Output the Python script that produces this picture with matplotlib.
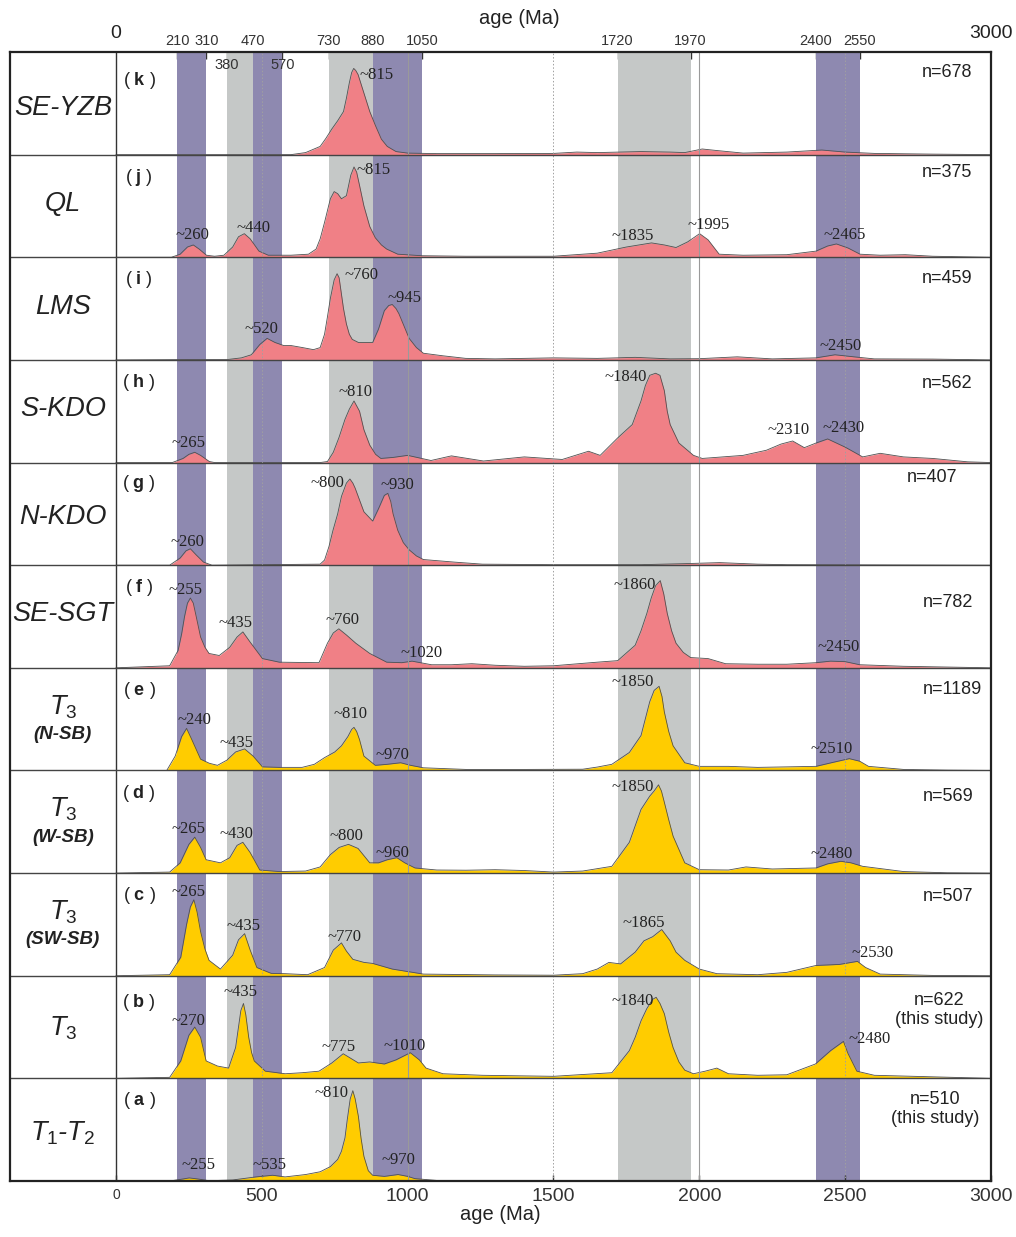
import matplotlib
matplotlib.use("Agg")
import matplotlib.pyplot as plt

plt.rcParams['font.family'] = ['Liberation Sans', 'DejaVu Sans']
plt.rcParams['mathtext.fontset'] = 'custom'
plt.rcParams['mathtext.it'] = 'Liberation Sans:italic'
plt.rcParams['mathtext.rm'] = 'Liberation Sans'
plt.rcParams['mathtext.bf'] = 'Liberation Sans:bold'

# ---- data: relative probability density (fraction of panel height) vs age (Ma)
k_age = [0, 600, 650, 700, 720, 740, 760, 780, 790, 800, 808, 815, 822, 830, 850, 870, 890, 910, 930, 960,
         1000, 1100, 1300, 1500, 1580, 1650, 1800, 1900, 1950, 2010, 2060, 2150, 2300, 2420, 2500, 2600,
         2800, 3000]
k_den = [0, 0, 0.02, 0.08, 0.16, 0.25, 0.33, 0.42, 0.55, 0.7, 0.8, 0.84, 0.82, 0.78, 0.6, 0.42, 0.28, 0.15,
         0.08, 0.03, 0.015, 0.01, 0.01, 0.012, 0.025, 0.02, 0.03, 0.025, 0.02, 0.055, 0.04, 0.015, 0.025,
         0.045, 0.025, 0.012, 0.005, 0]

j_age = [0, 190, 220, 245, 265, 285, 310, 338, 370, 400, 420, 440, 460, 490, 522, 600, 660, 686, 700, 715,
         735, 748, 760, 773, 790, 805, 816, 825, 835, 850, 870, 889, 910, 928, 966, 1050, 1200, 1500, 1650,
         1750, 1836, 1880, 1920, 1960, 2001, 2030, 2068, 2150, 2300, 2400, 2440, 2470, 2510, 2551, 2620,
         2706, 2800, 3000]
j_den = [0, 0, 0.03, 0.1, 0.12, 0.08, 0.02, 0.01, 0.02, 0.1, 0.2, 0.23, 0.18, 0.06, 0.02, 0.02, 0.03, 0.08,
         0.18, 0.34, 0.57, 0.64, 0.62, 0.57, 0.6, 0.8, 0.88, 0.83, 0.7, 0.5, 0.3, 0.19, 0.12, 0.08, 0.03,
         0.015, 0.01, 0.01, 0.04, 0.1, 0.14, 0.12, 0.095, 0.15, 0.23, 0.17, 0.03, 0.02, 0.025, 0.06, 0.11,
         0.13, 0.09, 0.03, 0.02, 0.025, 0.01, 0]

i_age = [0, 386, 430, 464, 493, 518, 545, 575, 600, 640, 677, 700, 715, 725, 735, 748, 758, 765, 770, 780,
         790, 800, 810, 831, 880, 900, 920, 935, 947, 960, 970, 1005, 1030, 1054, 1121, 1199, 1300, 1500,
         1650, 1780, 1900, 2000, 2130, 2250, 2400, 2465, 2530, 2600, 2800, 3000]
i_den = [0, 0.005, 0.02, 0.05, 0.15, 0.21, 0.17, 0.14, 0.14, 0.12, 0.1, 0.12, 0.25, 0.42, 0.6, 0.78, 0.84,
         0.8, 0.7, 0.5, 0.35, 0.25, 0.2, 0.17, 0.17, 0.3, 0.48, 0.53, 0.54, 0.5, 0.45, 0.21, 0.12, 0.065,
         0.04, 0.015, 0.01, 0.02, 0.015, 0.025, 0.01, 0.012, 0.03, 0.01, 0.02, 0.05, 0.03, 0.01, 0.008, 0]

h_age = [0, 193, 230, 250, 270, 290, 320, 338, 700, 725, 745, 764, 785, 800, 816, 835, 850, 870, 890, 908,
         950, 1000, 1080, 1150, 1260, 1400, 1530, 1620, 1660, 1720, 1770, 1800, 1815, 1830, 1850, 1865, 1880,
         1890, 1900, 1930, 1980, 2010, 2150, 2230, 2280, 2320, 2360, 2400, 2440, 2500, 2560, 2620, 2700,
         2800, 2920, 3000]
h_den = [0, 0, 0.04, 0.08, 0.1, 0.07, 0.01, 0, 0, 0.01, 0.1, 0.24, 0.42, 0.52, 0.6, 0.5, 0.32, 0.17, 0.08,
         0.04, 0.05, 0.07, 0.02, 0.065, 0.015, 0.055, 0.03, 0.11, 0.07, 0.24, 0.37, 0.6, 0.75, 0.85, 0.87,
         0.85, 0.7, 0.5, 0.37, 0.19, 0.07, 0.04, 0.07, 0.12, 0.18, 0.21, 0.145, 0.19, 0.23, 0.15, 0.055,
         0.09, 0.055, 0.04, 0.007, 0]

g_age = [0, 184, 220, 240, 255, 275, 300, 329, 700, 715, 730, 744, 760, 773, 790, 802, 812, 820, 850, 880,
         900, 920, 932, 942, 950, 966, 985, 1005, 1030, 1054, 1160, 1256, 1500, 1800, 1950, 2070, 2200,
         2300, 3000]
g_den = [0, 0, 0.07, 0.14, 0.16, 0.1, 0.03, 0, 0.01, 0.05, 0.18, 0.34, 0.5, 0.67, 0.8, 0.84, 0.8, 0.75, 0.52,
         0.43, 0.55, 0.68, 0.7, 0.62, 0.5, 0.34, 0.22, 0.15, 0.09, 0.055, 0.03, 0.01, 0.005, 0.005, 0.015,
         0.025, 0.01, 0.005, 0]

f_age = [0, 184, 213, 225, 235, 245, 255, 265, 275, 290, 305, 319, 354, 390, 415, 435, 460, 502, 560, 696,
         725, 745, 764, 790, 822, 870, 928, 980, 1015, 1082, 1150, 1220, 1300, 1400, 1500, 1650, 1720, 1780,
         1800, 1820, 1835, 1850, 1866, 1878, 1890, 1905, 1920, 1945, 1970, 2030, 2090, 2200, 2300, 2400, 2450,
         2500, 2550, 2700, 2900, 3000]
f_den = [0, 0.02, 0.17, 0.33, 0.5, 0.63, 0.68, 0.63, 0.5, 0.3, 0.2, 0.14, 0.12, 0.2, 0.3, 0.35, 0.25, 0.09,
         0.055, 0.05, 0.24, 0.34, 0.38, 0.32, 0.24, 0.14, 0.055, 0.05, 0.065, 0.03, 0.03, 0.04, 0.025, 0.015,
         0.02, 0.055, 0.07, 0.22, 0.36, 0.53, 0.68, 0.8, 0.85, 0.72, 0.53, 0.36, 0.24, 0.15, 0.1, 0.09, 0.04,
         0.035, 0.035, 0.05, 0.065, 0.06, 0.03, 0.015, 0.005, 0]

e_age = [0, 174, 203, 225, 242, 260, 290, 320, 348, 380, 410, 441, 470, 502, 560, 638, 680, 715, 750, 773,
         795, 808, 816, 825, 835, 850, 889, 930, 976, 1010, 1054, 1200, 1400, 1600, 1650, 1700, 1760, 1800,
         1830, 1845, 1862, 1872, 1880, 1895, 1910, 1950, 2000, 2100, 2200, 2400, 2460, 2514, 2550, 2580,
         2700, 2850, 3000]
e_den = [0, 0, 0.14, 0.33, 0.41, 0.3, 0.11, 0.07, 0.05, 0.1, 0.18, 0.21, 0.14, 0.035, 0.03, 0.03, 0.06,
         0.125, 0.18, 0.24, 0.33, 0.4, 0.42, 0.38, 0.3, 0.14, 0.05, 0.06, 0.075, 0.05, 0.026, 0.01, 0.01,
         0.012, 0.033, 0.06, 0.175, 0.34, 0.67, 0.78, 0.82, 0.72, 0.57, 0.38, 0.24, 0.075, 0.04, 0.04, 0.03,
         0.04, 0.08, 0.115, 0.09, 0.04, 0.01, 0.003, 0]

d_age = [0, 184, 220, 250, 270, 290, 309, 358, 390, 415, 435, 460, 493, 560, 650, 700, 735, 765, 797, 830,
         870, 900, 930, 963, 990, 1025, 1100, 1200, 1300, 1400, 1500, 1600, 1700, 1760, 1800, 1830, 1845,
         1860, 1870, 1880, 1895, 1910, 1950, 2000, 2100, 2160, 2250, 2400, 2440, 2485, 2520, 2560, 2700,
         2850, 3000]
d_den = [0, 0.01, 0.1, 0.28, 0.35, 0.25, 0.13, 0.1, 0.15, 0.27, 0.3, 0.2, 0.03, 0.015, 0.02, 0.06, 0.18,
         0.25, 0.28, 0.24, 0.1, 0.1, 0.13, 0.15, 0.1, 0.05, 0.03, 0.028, 0.033, 0.025, 0.01, 0.02, 0.066, 0.3,
         0.62, 0.75, 0.8, 0.86, 0.8, 0.69, 0.52, 0.36, 0.1, 0.033, 0.03, 0.06, 0.04, 0.05, 0.09, 0.115, 0.1,
         0.066, 0.015, 0.003, 0]

c_age = [0, 184, 222, 242, 255, 267, 278, 290, 305, 319, 358, 400, 420, 441, 460, 483, 532, 580, 657, 715,
         745, 773, 790, 812, 850, 880, 947, 1054, 1300, 1500, 1600, 1650, 1690, 1730, 1780, 1810, 1840, 1871,
         1900, 1920, 1950, 2000, 2060, 2200, 2300, 2400, 2480, 2542, 2570, 2620, 2800, 3000]
c_den = [0, 0.01, 0.18, 0.5, 0.67, 0.74, 0.62, 0.43, 0.26, 0.15, 0.065, 0.2, 0.35, 0.41, 0.25, 0.08, 0.023,
         0.02, 0.01, 0.08, 0.25, 0.32, 0.24, 0.16, 0.13, 0.12, 0.065, 0.016, 0.008, 0.005, 0.02, 0.065, 0.13,
         0.115, 0.23, 0.34, 0.38, 0.45, 0.34, 0.23, 0.15, 0.065, 0.02, 0.01, 0.033, 0.1, 0.11, 0.14, 0.08,
         0.016, 0.003, 0]

b_age = [0, 184, 222, 250, 270, 290, 309, 348, 386, 410, 420, 428, 437, 445, 455, 465, 474, 512, 580, 638,
         696, 740, 779, 831, 870, 920, 960, 1009, 1040, 1063, 1121, 1256, 1500, 1700, 1760, 1780, 1800, 1820,
         1840, 1852, 1865, 1880, 1895, 1910, 1930, 1950, 1980, 2020, 2060, 2100, 2200, 2300, 2398, 2450, 2494,
         2510, 2540, 2600, 2800, 3000]
b_den = [0, 0.01, 0.17, 0.42, 0.5, 0.4, 0.17, 0.12, 0.1, 0.3, 0.5, 0.66, 0.73, 0.62, 0.4, 0.25, 0.17, 0.07,
         0.045, 0.055, 0.07, 0.15, 0.24, 0.15, 0.16, 0.14, 0.18, 0.25, 0.18, 0.1, 0.045, 0.03, 0.02, 0.055,
         0.27, 0.4, 0.56, 0.68, 0.77, 0.79, 0.73, 0.63, 0.45, 0.3, 0.16, 0.08, 0.045, 0.07, 0.1, 0.045, 0.03,
         0.035, 0.14, 0.27, 0.36, 0.24, 0.07, 0.03, 0.015, 0]

a_age = [0, 184, 230, 251, 280, 319, 400, 480, 537, 580, 650, 700, 735, 760, 773, 785, 793, 803, 812, 820,
         831, 840, 850, 865, 880, 920, 967, 1000, 1025, 1102, 1200, 3000]
a_den = [0, 0, 0.02, 0.03, 0.02, 0.003, 0.01, 0.04, 0.056, 0.04, 0.063, 0.09, 0.14, 0.21, 0.29, 0.42, 0.6,
         0.8, 0.88, 0.8, 0.63, 0.42, 0.24, 0.1, 0.056, 0.045, 0.063, 0.045, 0.023, 0.005, 0, 0]

purple_bands = [(210, 310), (470, 570), (880, 1050), (2400, 2550)]
gray_bands = [(380, 470), (730, 880), (1720, 1970)]

letters = ['a', 'b', 'c', 'd', 'e', 'f', 'g', 'h', 'i', 'j', 'k']
n_text = ['n=510\n(this study)', 'n=622\n(this study)', 'n=507', 'n=569', 'n=1189', 'n=782',
          'n=407', 'n=562', 'n=459', 'n=375', 'n=678']

# peak annotations: (text, x, y within panel)
peaks = {
    'k': [('~815', 893, 0.78)],
    'j': [('~260', 263, 0.22), ('~440', 470, 0.29), ('~815', 882, 0.85), ('~1835', 1772, 0.21),
          ('~1995', 2033, 0.31), ('~2465', 2497, 0.22)],
    'i': [('~520', 499, 0.30), ('~760', 841, 0.83), ('~945', 988, 0.60), ('~2450', 2485, 0.14)],
    'h': [('~265', 249, 0.19), ('~810', 820, 0.69), ('~1840', 1746, 0.83), ('~2310', 2305, 0.32),
          ('~2430', 2493, 0.34)],
    'g': [('~260', 246, 0.23), ('~800', 725, 0.80), ('~930', 965, 0.78)],
    'f': [('~255', 240, 0.76), ('~435', 411, 0.44), ('~760', 776, 0.47), ('~1020', 1048, 0.145),
          ('~1860', 1777, 0.81), ('~2450', 2478, 0.20)],
    'e': [('~240', 269, 0.49), ('~435', 414, 0.27), ('~810', 803, 0.55), ('~970', 949, 0.15),
          ('~1850', 1772, 0.86), ('~2510', 2455, 0.21)],
    'd': [('~265', 248, 0.43), ('~430', 412, 0.38), ('~800', 791, 0.36), ('~960', 949, 0.20),
          ('~1850', 1772, 0.84), ('~2480', 2455, 0.19)],
    'c': [('~265', 248, 0.82), ('~435', 437, 0.48), ('~770', 783, 0.38), ('~1865', 1808, 0.51),
          ('~2530', 2595, 0.22)],
    'b': [('~270', 248, 0.56), ('~435', 427, 0.84), ('~775', 764, 0.31), ('~1010', 988, 0.32),
          ('~1840', 1772, 0.75), ('~2480', 2584, 0.38)],
    'a': [('~810', 739, 0.86), ('~255', 282, 0.155), ('~535', 526, 0.155), ('~970', 967, 0.20)],
}

pink = '#f08086'
yellow = '#ffcc00'
series = [(a_age, a_den, yellow), (b_age, b_den, yellow), (c_age, c_den, yellow),
          (d_age, d_den, yellow), (e_age, e_den, yellow), (f_age, f_den, pink),
          (g_age, g_den, pink), (h_age, h_den, pink), (i_age, i_den, pink),
          (j_age, j_den, pink), (k_age, k_den, pink)]

fig = plt.figure(figsize=(10.16, 12.37), dpi=100)
ax = fig.add_axes([10 / 1016, 1 - 1181 / 1237, 981 / 1016, 1129 / 1237])
ax.set_xlim(-363.4, 3000)
ax.set_ylim(0, 11)

for lo, hi in purple_bands:
    ax.axvspan(lo, hi, color='#8e89b0', lw=0, zorder=1)
for lo, hi in gray_bands:
    ax.axvspan(lo, hi, color='#c5c8c7', lw=0, zorder=1)

for idx, (age, den, col) in enumerate(series):
    top = [idx + v for v in den]
    ax.fill_between(age, idx, top, color=col, lw=0, zorder=2)
    ax.plot(age, top, color='#505050', lw=0.6, zorder=3, solid_joinstyle='round')

# reference lines
for x in (1000, 2000):
    ax.axvline(x, color='#9a9a9a', lw=0.8, zorder=4)
for x in (500, 1500, 2500):
    ax.axvline(x, color='#a0a0a0', lw=0.7, ls=(0, (1.5, 2)), zorder=4)
ax.axvline(0, color='#333333', lw=1.0, zorder=5)
for idx in range(1, 11):
    ax.axhline(idx, color='#444444', lw=1.0, zorder=5)

for s in ax.spines.values():
    s.set_linewidth(1.6)
    s.set_color('#222222')
    s.set_zorder(6)

# left column labels
name_kw = dict(ha='center', va='center', fontsize=19.5, style='italic', color='#222222')
names = [(r'$T_{\mathit{1}}$-$T_{\mathit{2}}$', 0.47), (r'$T_{\mathit{3}}$', 0.49),
         (r'$T_{\mathit{3}}$', 0.62), (r'$T_{\mathit{3}}$', 0.62), (r'$T_{\mathit{3}}$', 0.62),
         ('SE-SGT', 0.52), ('N-KDO', 0.47), ('S-KDO', 0.52), ('LMS', 0.52), ('QL', 0.52),
         ('SE-YZB', 0.45)]
for idx, (txt, yy) in enumerate(names):
    ax.text(-182, idx + yy, txt, **name_kw)
subs = {2: '(SW-SB)', 3: '(W-SB)', 4: '(N-SB)'}
for idx, txt in subs.items():
    ax.text(-182, idx + 0.35, txt, ha='center', va='center', fontsize=13.5,
            style='italic', weight='bold', color='#222222')

letter_y = [0.78, 0.74, 0.78, 0.78, 0.78, 0.78, 0.8, 0.78, 0.78, 0.78, 0.72]
for idx, lt in enumerate(letters):
    ax.text(80, idx + letter_y[idx], '( $\\mathbf{' + lt + '}$ )', ha='center', va='center',
            fontsize=13, color='#222222', zorder=7)
    for txt, xx, yy in peaks[lt]:
        ax.text(xx, idx + yy, txt, ha='center', va='center', fontsize=12,
                family='Liberation Serif', color='#222222', zorder=7)

n_pos = [(2810, 0.70, 'center'), (2822, 0.67, 'center'), (2940, 0.77, 'right'), (2940, 0.75, 'right'),
         (2968, 0.79, 'right'), (2940, 0.64, 'right'), (2885, 0.85, 'right'), (2935, 0.77, 'right'),
         (2935, 0.79, 'right'), (2935, 0.83, 'right'), (2935, 0.80, 'right')]
for idx, txt in enumerate(n_text):
    xx, yy, ha = n_pos[idx]
    ax.text(xx, idx + yy, txt, ha=ha, va='center', fontsize=13, linespacing=1.15,
            color='#222222', zorder=7)

# bottom axis
ax.set_yticks([])
ax.set_xticks([0, 500, 1000, 1500, 2000, 2500, 3000])
ax.set_xticklabels(['0', '500', '1000', '1500', '2000', '2500', '3000'], fontsize=14, color='#333333')
ax.get_xticklabels()[0].set_fontsize(10)
ax.tick_params(axis='x', direction='in', length=4, width=1, pad=5, color='#333333')
ax.set_xlabel('age (Ma)', fontsize=14.5, labelpad=0, color='#222222')

# top axis with band limits
edges = [210, 310, 380, 470, 570, 730, 880, 1050, 1720, 1970, 2400, 2550]
top_ax = ax.secondary_xaxis('top')
top_ax.set_xticks(edges)
top_ax.set_xticklabels([str(e) if e not in (380, 570) else '' for e in edges], fontsize=10.5,
                       color='#333333')
top_ax.tick_params(direction='in', length=5, width=1, pad=3, color='#333333')
top_ax.spines['top'].set_visible(False)
tr = ax.get_xaxis_transform()
for e in (380, 570):
    ax.text(e, 0.9885, str(e), transform=tr, ha='center', va='center', fontsize=10.5,
            color='#333333', zorder=7)
ax.text(0, 1.0168, '0', transform=tr, ha='center', va='center', fontsize=14, color='#222222')
ax.text(3000, 1.0168, '3000', transform=tr, ha='center', va='center', fontsize=14, color='#222222')
ax.text(1382, 1.030, 'age (Ma)', transform=tr, ha='center', va='center', fontsize=14.5, color='#222222')

fig.savefig('out.png', dpi=100)
